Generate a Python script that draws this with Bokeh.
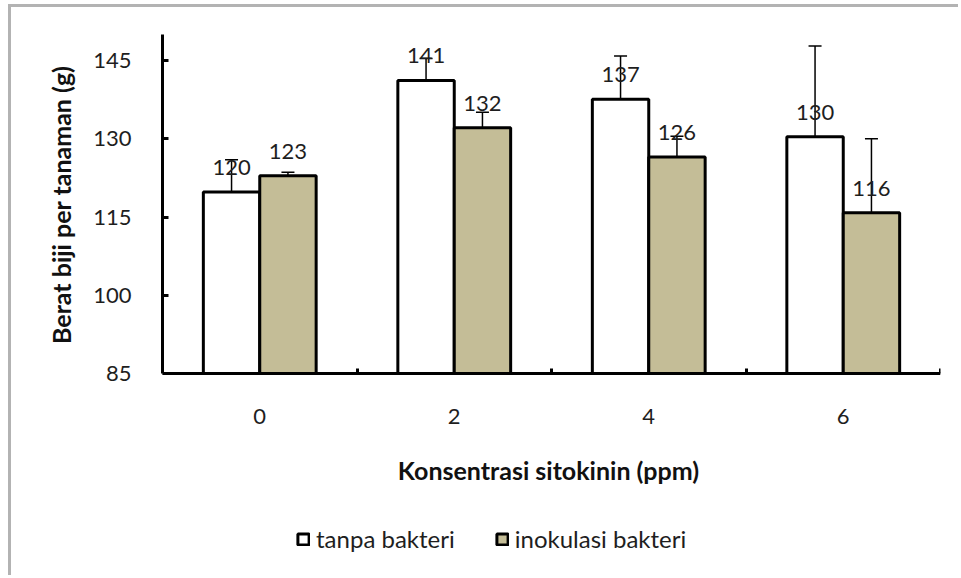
from bokeh.plotting import figure
from bokeh.models import (Range1d, FixedTicker, ColumnDataSource, Whisker, TeeHead,
                          LabelSet, Legend, LegendItem, Title)
from bokeh.core.properties import value
from bokeh.embed import file_html
from bokeh.resources import INLINE

# ---- data ----
categories = ["0", "2", "4", "6"]
tanpa = [119.8, 141.2, 137.6, 130.4]
inokulasi = [122.9, 132.1, 126.5, 115.8]
err_tanpa = [6.2, 4.2, 8.3, 17.4]
err_inok = [0.7, 3.0, 4.0, 14.2]
lab_tanpa = ["120", "141", "137", "130"]
lab_inok = ["123", "132", "126", "116"]
y_ticks = [85, 100, 115, 130, 145]
Y_MIN, Y_MAX = 85, 150

FONT = "Lato"
TXT = "#1e1e1e"
TAN = "#c4bd97"
W = 0.29
OFF = 0.145

# layout (pixels)
FIG_W, FIG_H = 950, 571
B_LEFT, B_RIGHT, B_TOP, B_BOTTOM = 151, 21, 27, 18
AXIS_PX = 339                      # pixel height of the 85..150 value axis
frame_h = FIG_H - B_TOP - B_BOTTOM
y_lo = Y_MAX - frame_h * (Y_MAX - Y_MIN) / AXIS_PX   # frame extends below the axis for the legend

xc = [i + 0.5 for i in range(len(categories))]
src_t = ColumnDataSource(dict(
    x=[v - OFF for v in xc], top=tanpa,
    lo=[a - b for a, b in zip(tanpa, err_tanpa)],
    hi=[a + b for a, b in zip(tanpa, err_tanpa)],
    lab=lab_tanpa))
src_i = ColumnDataSource(dict(
    x=[v + OFF for v in xc], top=inokulasi,
    lo=[a - b for a, b in zip(inokulasi, err_inok)],
    hi=[a + b for a, b in zip(inokulasi, err_inok)],
    lab=lab_inok))

p = figure(width=FIG_W, height=FIG_H, output_backend="svg", toolbar_location=None,
           x_range=Range1d(0, len(categories)), y_range=Range1d(y_lo, Y_MAX),
           min_border_left=B_LEFT, min_border_right=B_RIGHT, min_border_top=B_TOP,
           min_border_bottom=B_BOTTOM)
p.styles = {"margin-left": "11px", "margin-top": "7px",
            "box-shadow": "-3px -3px 0 0 #b3b3b3"}
p.grid.visible = False
p.outline_line_color = None
p.background_fill_color = "white"
p.border_fill_color = "white"

r_t = p.vbar(x="x", top="top", bottom=Y_MIN, width=W, source=src_t,
             fill_color="white", line_color="black", line_width=3)
r_i = p.vbar(x="x", top="top", bottom=Y_MIN, width=W, source=src_i,
             fill_color=TAN, line_color="black", line_width=3)

for s in (src_t, src_i):
    p.add_layout(Whisker(base="x", lower="lo", upper="hi", source=s,
                         line_color="black", line_width=1.5,
                         upper_head=TeeHead(size=13, line_width=1.5, line_color="black"),
                         lower_head=TeeHead(size=13, line_width=1.5, line_color="black")))
    p.add_layout(LabelSet(x="x", y="top", text="lab", source=s, y_offset=17,
                          text_align="center", text_baseline="alphabetic",
                          text_font=value(FONT), text_font_size="22px", text_color=TXT))

# axes
xa = p.xaxis[0]
xa.fixed_location = Y_MIN
xa.ticker = FixedTicker(ticks=xc, minor_ticks=list(range(1, len(categories) + 1)))
xa.major_label_overrides = {v: c for v, c in zip(xc, categories)}
xa.major_tick_in = 0
xa.major_tick_out = 0
xa.minor_tick_in = 5
xa.minor_tick_out = 0
xa.minor_tick_line_width = 3
xa.axis_line_width = 3
xa.axis_line_color = "black"
xa.major_label_standoff = 35
xa.major_label_text_font = FONT
xa.major_label_text_font_size = "22px"
xa.major_label_text_color = TXT
xa.axis_label = "Konsentrasi sitokinin  (ppm)"
xa.axis_label_text_font = FONT
xa.axis_label_text_font_style = "bold"
xa.axis_label_text_font_size = "25px"
xa.axis_label_text_color = "#111111"
xa.axis_label_standoff = 28

ya = p.yaxis[0]
ya.bounds = (Y_MIN, Y_MAX)
ya.ticker = FixedTicker(ticks=y_ticks, minor_ticks=[])
ya.major_tick_in = 6
ya.major_tick_out = 0
ya.major_tick_line_width = 3
ya.axis_line_width = 3
ya.axis_line_color = "black"
ya.major_label_standoff = 31
ya.major_label_text_font = FONT
ya.major_label_text_font_size = "22px"
ya.major_label_text_color = TXT

ytitle = Title(text="Berat biji per tanaman (g)", align="right", offset=31,
               standoff=30, text_font=FONT, text_font_style="bold",
               text_font_size="25px", text_color="#111111")
p.add_layout(ytitle, "left")

legend = Legend(items=[LegendItem(label="tanpa bakteri", renderers=[r_t]),
                       LegendItem(label="inokulasi bakteri", renderers=[r_i])],
                orientation="horizontal", location=(134, 7),
                glyph_width=14, glyph_height=14, label_height=14,
                label_standoff=6, spacing=40, padding=0, margin=0,
                border_line_alpha=0, background_fill_alpha=0,
                label_text_font=FONT, label_text_font_size="24px",
                label_text_color=TXT)
p.add_layout(legend)

open("out.html", "w").write(file_html(p, INLINE))
